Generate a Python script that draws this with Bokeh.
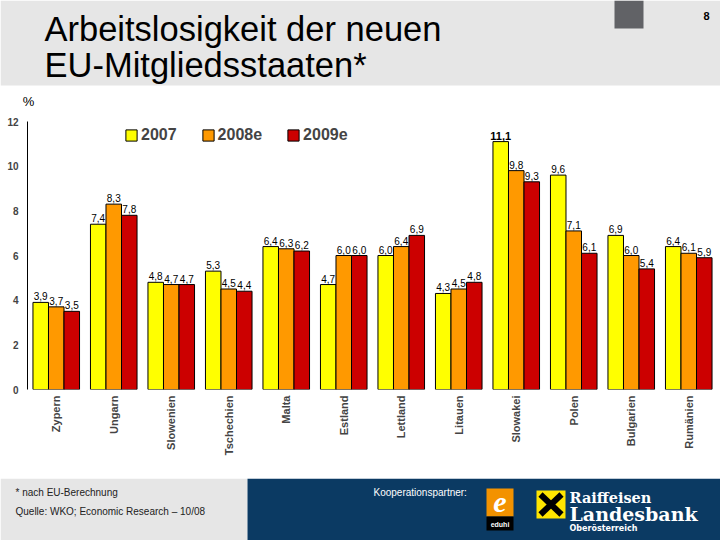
import math
from bokeh.plotting import figure
from bokeh.models import ColumnDataSource, Range1d, FactorRange, FixedTicker
from bokeh.transform import dodge
from bokeh.core.properties import value
from bokeh.embed import file_html
from bokeh.resources import INLINE

# ---------------- data ----------------
countries = ["Zypern", "Ungarn", "Slowenien", "Tschechien", "Malta", "Estland",
             "Lettland", "Litauen", "Slowakei", "Polen", "Bulgarien", "Rumänien"]
series_names = ["2007", "2008e", "2009e"]
v2007 = [3.9, 7.4, 4.8, 5.3, 6.4, 4.7, 6.0, 4.3, 11.1, 9.6, 6.9, 6.4]
v2008 = [3.7, 8.3, 4.7, 4.5, 6.3, 6.0, 6.4, 4.5, 9.8, 7.1, 6.0, 6.1]
v2009 = [3.5, 7.8, 4.7, 4.4, 6.2, 6.0, 6.9, 4.8, 9.3, 6.1, 5.4, 5.9]
y_ticks = [0, 2, 4, 6, 8, 10, 12]

title_line1 = "Arbeitslosigkeit der neuen"
title_line2 = "EU-Mitgliedsstaaten*"
page_number = "8"
unit_label = "%"
footnote = "* nach EU-Berechnung"
source_note = "Quelle: WKO; Economic Research \u2013 10/08"
partner_label = "Kooperationspartner:"

colors = ["#FFFF00", "#FF9900", "#CC0000"]
FONT = value("Liberation Sans")
GRAY = "#E6E6E6"
BLUE = "#0B3A63"

W = 720


def deco_fig(h, y0, y1):
    f = figure(width=W, height=h, x_range=Range1d(0, W), y_range=Range1d(y1, y0),
               output_backend="svg", toolbar_location=None, tools="",
               x_axis_type=None, y_axis_type=None, min_border=0)
    f.outline_line_color = None
    f.grid.visible = False
    return f


# ---------------- header ----------------
head = deco_fig(110, 0, 110)
head.quad(left=[0], right=[720], top=[0], bottom=[85], fill_color=GRAY, line_color=None)
head.quad(left=[614], right=[643], top=[0], bottom=[28], fill_color="#616266", line_color=None)
head.text(x=[44], y=[28], text=[title_line1], text_font=FONT, text_font_size="34.5px",
          text_baseline="middle", text_color="black")
head.text(x=[44], y=[64], text=[title_line2], text_font=FONT, text_font_size="34.5px",
          text_baseline="middle", text_color="black")
head.text(x=[706], y=[15], text=[page_number], text_font=FONT, text_font_size="11px",
          text_font_style="bold", text_align="center", text_baseline="middle")
head.text(x=[28], y=[101], text=[unit_label], text_font=FONT, text_font_size="13px",
          text_align="center", text_baseline="middle")

# ---------------- chart ----------------
p = figure(width=W, height=368, x_range=FactorRange(*countries), y_range=Range1d(0, 12),
           output_backend="svg", toolbar_location=None, tools="",
           min_border_left=27, min_border_right=3, min_border_top=11, min_border_bottom=89)
p.outline_line_color = None
p.grid.visible = False

all_max = max(v2007 + v2008 + v2009)
offsets = [-0.27, 0.0, 0.27]
for name, vals, off, col in zip(series_names, [v2007, v2008, v2009], offsets, colors):
    src = ColumnDataSource(dict(
        cat=countries, val=vals,
        lab=[f"{v:.1f}".replace(".", ",") for v in vals],
        sty=["bold" if v == all_max else "normal" for v in vals],
        fsz=["11px" if v == all_max else "10px" for v in vals]))
    p.vbar(x=dodge("cat", off, range=p.x_range), top="val", width=0.27, source=src,
           fill_color=col, line_color="black", line_width=1, legend_label=name)
    p.text(x=dodge("cat", off, range=p.x_range), y="val", text="lab", source=src,
           text_align="center", text_baseline="bottom", y_offset=-2,
           text_font=FONT, text_font_size="fsz", text_font_style="sty",
           text_color="black")

p.yaxis.ticker = FixedTicker(ticks=y_ticks)
p.yaxis.major_tick_out = 0
p.yaxis.major_tick_in = 0
p.yaxis.minor_tick_out = 0
p.yaxis.minor_tick_in = 0
p.yaxis.major_label_standoff = 9
p.yaxis.major_label_text_font = "Liberation Sans"
p.yaxis.major_label_text_font_style = "bold"
p.yaxis.major_label_text_font_size = "10px"
p.yaxis.axis_line_color = "black"

p.xaxis.axis_line_color = None
p.xaxis.major_tick_out = 0
p.xaxis.major_tick_in = 0
p.xaxis.major_label_orientation = math.pi / 2
p.xaxis.major_label_standoff = 6
p.xaxis.major_label_text_font = "Liberation Sans"
p.xaxis.major_label_text_font_style = "bold"
p.xaxis.major_label_text_font_size = "11px"

lg = p.legend[0]
lg.orientation = "horizontal"
lg.location = (97, 245)
lg.glyph_width = 14
lg.glyph_height = 14
lg.label_standoff = 3
lg.spacing = 24
lg.padding = 0
lg.margin = 0
lg.border_line_color = None
lg.background_fill_alpha = 0
lg.label_text_font = "Liberation Sans"
lg.label_text_font_style = "bold"
lg.label_text_font_size = "16px"

# ---------------- footer ----------------
foot = deco_fig(62, 478, 540)
foot.quad(left=[0], right=[247], top=[478], bottom=[540], fill_color=GRAY, line_color=None)
foot.quad(left=[247], right=[720], top=[478], bottom=[540], fill_color=BLUE, line_color=None)
foot.text(x=[15], y=[492], text=[footnote], text_font=FONT, text_font_size="10px",
          text_baseline="middle", text_color="#222222")
foot.text(x=[15], y=[511], text=[source_note], text_font=FONT, text_font_size="10px",
          text_baseline="middle", text_color="#222222")
foot.text(x=[373], y=[492], text=[partner_label], text_font=FONT, text_font_size="10px",
          text_baseline="middle", text_color="white")
# eduhi logo
foot.quad(left=[486], right=[513], top=[488], bottom=[516], fill_color="#F39200", line_color=None)
foot.quad(left=[486], right=[513], top=[516], bottom=[530], fill_color="black", line_color=None)
foot.text(x=[499.5], y=[502], text=["e"], text_font=value("Liberation Serif"),
          text_font_size="30px", text_font_style="bold italic", text_color="white",
          text_align="center", text_baseline="middle")
foot.text(x=[499.5], y=[523.5], text=["eduhi"], text_font=FONT, text_font_size="7px",
          text_font_style="bold", text_color="white", text_align="center", text_baseline="middle")
# Raiffeisen logo
foot.quad(left=[536], right=[565], top=[490], bottom=[518], fill_color="#FFE500", line_color=None)
foot.segment(x0=[540, 561], y0=[494, 494], x1=[561, 540], y1=[514, 514],
             line_color="black", line_width=6)
foot.text(x=[569], y=[497], text=["Raiffeisen"], text_font=value("DejaVu Serif"),
          text_font_size="14.5px", text_font_style="bold", text_color="white",
          text_baseline="middle")
foot.text(x=[569], y=[513.5], text=["Landesbank"], text_font=value("DejaVu Serif"),
          text_font_size="19px", text_font_style="bold", text_color="white",
          text_baseline="middle")
foot.text(x=[569], y=[527.5], text=["Oberösterreich"], text_font=value("DejaVu Sans"),
          text_font_size="8px", text_font_style="bold", text_color="white",
          text_baseline="middle")

open("out.html", "w").write(file_html([head, p, foot], INLINE))
